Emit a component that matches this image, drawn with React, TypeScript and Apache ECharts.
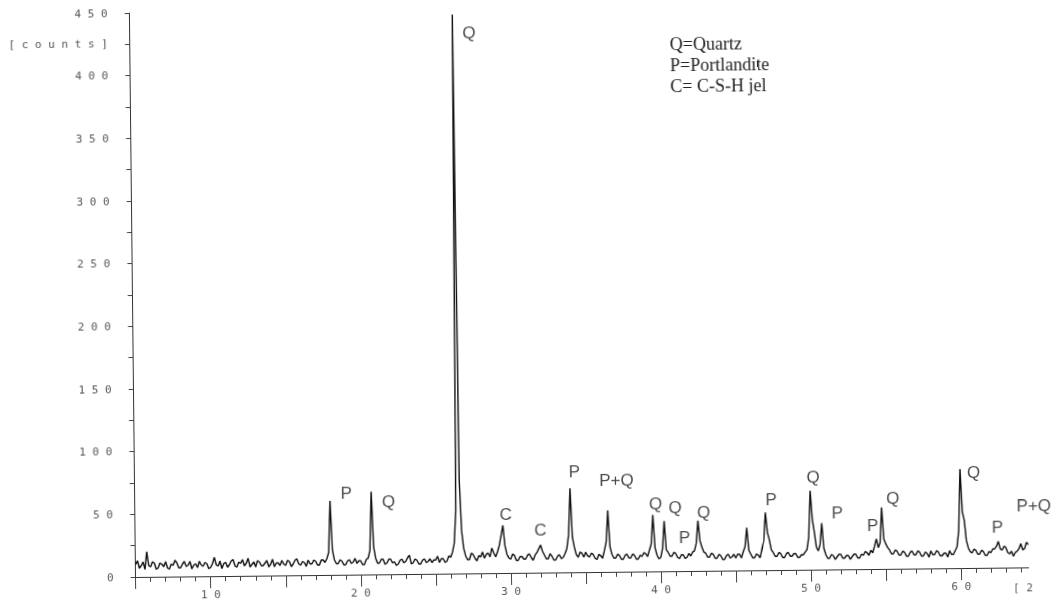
import React, { useEffect, useRef } from "react";
import * as echarts from "echarts";

// ---- measured XRD trace (counts), 0.125° 2θ steps, one array per 10° segment ----
const STEP = 0.125;
const segmentStarts = [5, 15, 25, 35, 45, 55];

const counts05to15 = [
  10, 13, 7, 9, 12, 6, 20, 9, 8, 12, 11, 6, 7, 11, 10, 8, 12, 7, 6, 10,
  9, 13, 11, 7, 7, 10, 12, 8, 9, 12, 6, 9, 10, 7, 12, 9, 8, 11, 10, 6,
  7, 10, 15, 9, 8, 12, 6, 10, 11, 7, 9, 12, 13, 8, 7, 11, 10, 13, 8, 10,
  14, 7, 9, 11, 7, 12, 11, 8, 8, 10, 12, 7, 9, 13, 7, 10, 10, 8, 12, 9,
];
const counts15to25 = [
  8, 12, 11, 7, 9, 12, 13, 9, 8, 11, 10, 7, 12, 9, 9, 12, 11, 8, 8, 12,
  12, 10, 13, 18, 59, 20, 12, 9, 9, 12, 11, 8, 8, 11, 12, 9, 10, 13, 9, 11,
  11, 8, 8, 12, 13, 19, 66, 22, 13, 9, 9, 12, 12, 8, 9, 12, 12, 9, 10, 7,
  8, 11, 12, 9, 10, 13, 15, 8, 9, 12, 11, 8, 8, 11, 12, 9, 10, 12, 9, 11,
];
const counts25to35 = [
  11, 14, 9, 12, 12, 9, 10, 14, 13, 17, 24, 50, 446, 75, 34, 20, 14, 11, 11, 16,
  15, 12, 10, 14, 13, 17, 12, 15, 16, 13, 20, 16, 13, 17, 22, 30, 38, 22, 15, 12,
  11, 15, 14, 10, 10, 13, 13, 11, 11, 14, 15, 12, 10, 14, 16, 19, 22, 17, 14, 11,
  11, 15, 13, 10, 10, 13, 14, 11, 12, 15, 19, 30, 67, 28, 20, 14, 12, 16, 15, 12,
];
const counts35to45 = [
  16, 13, 12, 15, 14, 11, 10, 14, 13, 11, 17, 24, 49, 20, 14, 11, 11, 14, 13, 10,
  10, 13, 14, 11, 11, 14, 13, 10, 10, 13, 12, 15, 14, 12, 17, 22, 45, 19, 13, 10,
  11, 18, 40, 17, 15, 12, 12, 15, 14, 11, 10, 13, 13, 10, 11, 14, 12, 15, 16, 22,
  40, 24, 19, 15, 14, 11, 11, 14, 13, 10, 10, 13, 12, 9, 9, 12, 13, 10, 11, 13,
];
const counts45to55 = [
  10, 13, 13, 10, 15, 19, 34, 16, 13, 10, 10, 13, 12, 10, 17, 24, 46, 30, 24, 16,
  14, 11, 11, 14, 13, 10, 10, 13, 14, 11, 11, 13, 13, 10, 10, 12, 12, 14, 16, 26,
  63, 40, 30, 18, 15, 20, 37, 17, 12, 9, 9, 12, 11, 8, 10, 12, 12, 9, 9, 11,
  11, 8, 10, 12, 12, 9, 9, 12, 11, 14, 13, 11, 15, 13, 18, 24, 17, 21, 49, 24,
];
const counts55to645 = [
  20, 17, 15, 12, 12, 15, 14, 11, 11, 14, 13, 10, 10, 13, 14, 11, 11, 14, 13, 10,
  10, 13, 12, 9, 14, 11, 11, 14, 13, 10, 10, 12, 12, 9, 14, 11, 11, 14, 17, 30,
  79, 45, 38, 22, 16, 13, 12, 15, 14, 11, 11, 14, 13, 10, 10, 13, 12, 15, 15, 17,
  21, 15, 14, 17, 16, 12, 11, 13, 9, 12, 13, 15, 19, 14, 15, 20, 18,
];
const segments = [counts05to15, counts15to25, counts25to35, counts35to45, counts45to55, counts55to645];

// ---- axes ----
const X_MIN = 5;
const X_MAX = 64.5;
const Y_MIN = 0;
const Y_MAX = 450;
const Y_INTERVAL = 25;
const xMinorTicks = [
  5, 6, 7, 8, 9, 10, 11, 12, 13, 14, 15, 16, 17, 18, 19, 20, 21, 22, 23, 24, 25,
  26, 27, 28, 29, 30, 31, 32, 33, 34, 35, 36, 37, 38, 39, 40, 41, 42, 43, 44, 45,
  46, 47, 48, 49, 50, 51, 52, 53, 54, 55, 56, 57, 58, 59, 60, 61, 62, 63, 64,
];
const xMajorTicks = [5, 10, 15, 20, 25, 30, 35, 40, 45, 50, 55, 60];
const xLabelValues = [10, 20, 30, 40, 50, 60];
const yLabelValues = [0, 50, 100, 150, 200, 250, 300, 350, 400, 450];

// ---- peak annotations ----
const peakLabelText = ["Q", "P", "Q", "C", "C", "P", "P+Q", "Q", "Q", "P", "Q", "P", "Q", "P", "P", "Q", "Q", "P", "P+Q"];
const peakLabelPos: [number, number][] = [
  [27.6, 431], [19.1, 65], [21.9, 58], [29.7, 47], [32.0, 34], [34.3, 80], [37.1, 73],
  [39.7, 54], [41.0, 51], [41.6, 27], [42.9, 47], [47.4, 56], [50.2, 74], [51.8, 45],
  [54.15, 35], [55.5, 56], [60.9, 76], [62.45, 32], [64.9, 49],
];
const legendLines = ["Q=Quartz", "P=Portlandite", "C= C-S-H jel"];

const spaced = (v: number) => String(v).split("").join(" ");
const MONO = '"DejaVu Sans Mono", monospace';

export default function App() {
  const ref = useRef<HTMLDivElement>(null);
  useEffect(() => {
    if (!ref.current) return;
    const chart = echarts.init(ref.current, undefined, { renderer: "svg" });
    const trace: [number, number][] = [];
    segments.forEach((seg, s) =>
      seg.forEach((c, i) => trace.push([segmentStarts[s] + i * STEP, c]))
    );
    const labelData = peakLabelPos.map((p, i) => ({ value: p, name: peakLabelText[i] }));
    chart.setOption({
      animation: false,
      backgroundColor: "transparent",
      grid: { left: 135.7, top: 13, right: 51.4, bottom: 63, containLabel: false },
      xAxis: [
        {
          type: "value",
          min: X_MIN,
          max: X_MAX,
          position: "bottom",
          splitLine: { show: false },
          axisLine: { show: true, lineStyle: { color: "#333", width: 1 } },
          axisTick: { show: true, customValues: xMinorTicks, length: 5, lineStyle: { color: "#444" } },
          axisLabel: {
            show: true,
            customValues: xLabelValues,
            formatter: (v: number) => spaced(v),
            margin: 13,
            color: "#555",
            fontSize: 11,
            fontFamily: MONO,
          },
        },
        {
          type: "value",
          min: X_MIN,
          max: X_MAX,
          position: "bottom",
          splitLine: { show: false },
          axisLine: { show: false },
          axisTick: { show: true, customValues: xMajorTicks, length: 12, lineStyle: { color: "#444" } },
          axisLabel: { show: false },
        },
      ],
      yAxis: {
        type: "value",
        min: Y_MIN,
        max: Y_MAX,
        interval: Y_INTERVAL,
        splitLine: { show: false },
        axisLine: { show: true, lineStyle: { color: "#333", width: 1 } },
        axisTick: { show: true, length: 5, lineStyle: { color: "#444" } },
        axisLabel: {
          show: true,
          customValues: yLabelValues,
          formatter: (v: number) => spaced(v),
          margin: 22,
          color: "#555",
          fontSize: 11,
          fontFamily: MONO,
        },
      },
      series: [
        {
          type: "line",
          data: trace,
          symbol: "none",
          lineStyle: { color: "#111", width: 1.4 },
          z: 3,
        },
        {
          type: "scatter",
          data: labelData,
          symbolSize: 0.1,
          clip: false,
          itemStyle: { color: "rgba(0,0,0,0)" },
          label: {
            show: true,
            position: "inside",
            formatter: (p: any) => p.name,
            color: "#1a1a1a",
            fontSize: 17,
            fontFamily: '"Liberation Sans", Arial, sans-serif',
            align: "center",
            verticalAlign: "middle",
          },
          z: 4,
        },
      ],
      graphic: [
        {
          type: "text",
          x: 113.7,
          y: 43,
          style: { text: "[ c o u n t s ]", align: "right", verticalAlign: "middle", fill: "#555", font: `11px ${MONO}` },
        },
        {
          type: "text",
          x: 1013,
          y: 597,
          style: { text: "[ 2", align: "left", verticalAlign: "middle", fill: "#555", font: `11px ${MONO}` },
        },
        ...legendLines.map((t, i) => ({
          type: "text",
          x: 675.5,
          y: 50 + i * 21,
          style: { text: t, align: "left", verticalAlign: "middle", fill: "#222", font: '18px "Liberation Serif", "Times New Roman", serif' },
        })),
      ],
    });
    return () => chart.dispose();
  }, []);
  return (
    <div
      ref={ref}
      style={{
        position: "fixed",
        left: 0,
        top: 0,
        width: 1080,
        height: 640,
        transform: "rotate(-0.62deg)",
        transformOrigin: "135.7px 577px",
      }}
    />
  );
}
